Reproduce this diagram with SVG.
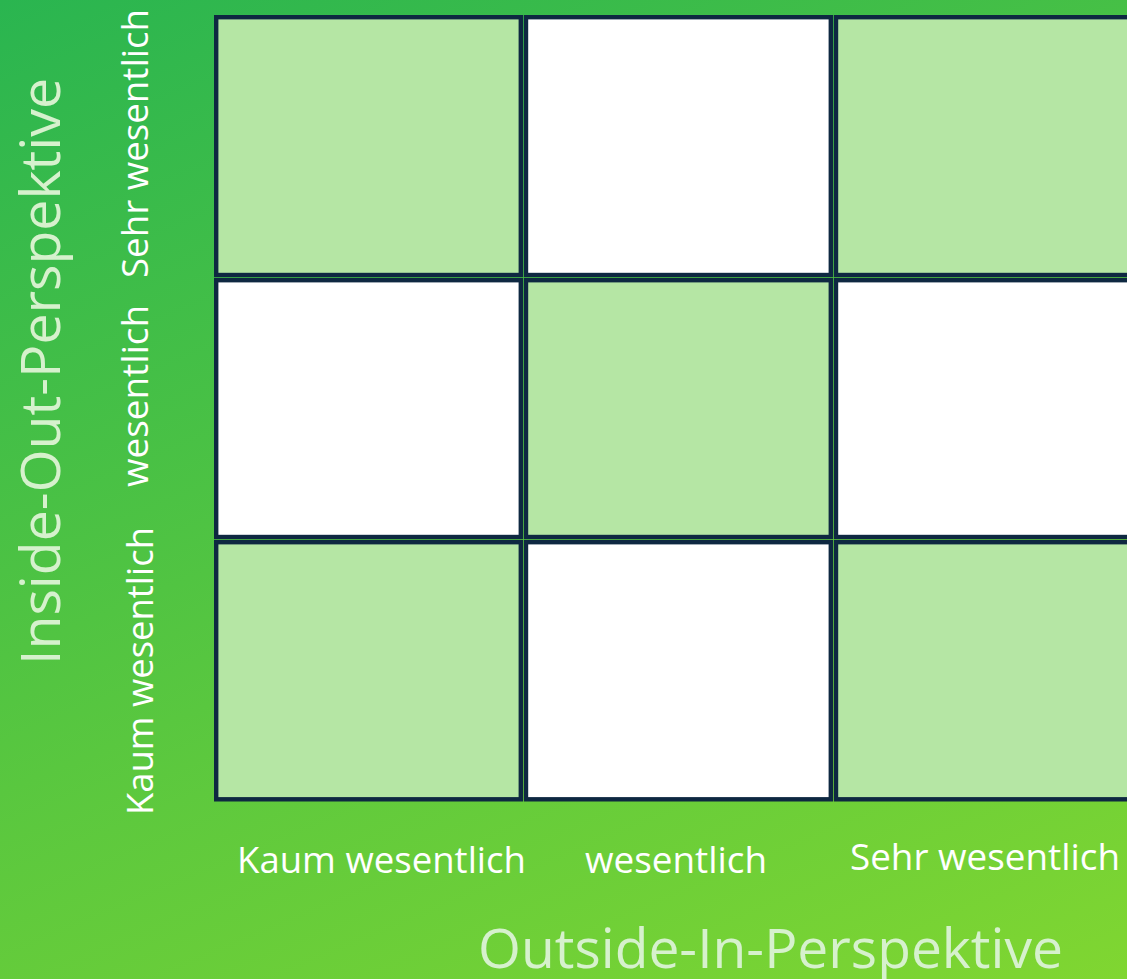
<svg xmlns="http://www.w3.org/2000/svg" width="1127" height="979" viewBox="0 0 1127 979">
  <defs>
    <linearGradient id="bg" gradientUnits="userSpaceOnUse" x1="0" y1="0" x2="516" y2="1234">
      <stop offset="0" stop-color="#2ab550"/>
      <stop offset="1" stop-color="#80d631"/>
    </linearGradient>
  </defs>
  <style>
    .cell { stroke: #0e2841; stroke-width: 4.4; }
    .g { fill: #b5e6a4; }
    .w { fill: #ffffff; }
    .lbl { font-family: "Open Sans", "Noto Sans", "Liberation Sans", sans-serif; font-size: 36px; fill: #ffffff; }
    .title { font-family: "Open Sans", "Noto Sans", "Liberation Sans", sans-serif; font-size: 55px; font-weight: 400; fill: #d6f1cd; }
  </style>
  <rect x="0" y="0" width="1127" height="979" fill="url(#bg)"/>

  <g id="grid">
    <g id="cell-r1c1"><rect class="cell g" x="216.2" y="17.2" width="304.6" height="257.8"/></g>
    <g id="cell-r1c2"><rect class="cell w" x="526" y="17.2" width="304.8" height="257.8"/></g>
    <g id="cell-r1c3"><rect class="cell g" x="836" y="17.2" width="304.8" height="257.8"/></g>
    <g id="cell-r2c1"><rect class="cell w" x="216.2" y="280.2" width="304.6" height="256.8"/></g>
    <g id="cell-r2c2"><rect class="cell g" x="526" y="280.2" width="304.8" height="256.8"/></g>
    <g id="cell-r2c3"><rect class="cell w" x="836" y="280.2" width="304.8" height="256.8"/></g>
    <g id="cell-r3c1"><rect class="cell g" x="216.2" y="542.2" width="304.6" height="257.1"/></g>
    <g id="cell-r3c2"><rect class="cell w" x="526" y="542.2" width="304.8" height="257.1"/></g>
    <g id="cell-r3c3"><rect class="cell g" x="836" y="542.2" width="304.8" height="257.1"/></g>
  </g>

  <g id="connectors"/>

  <g id="x-axis">
    <text class="lbl" x="237" y="873" textLength="289" lengthAdjust="spacingAndGlyphs">Kaum wesentlich</text>
    <text class="lbl" x="585" y="873" textLength="182" lengthAdjust="spacingAndGlyphs">wesentlich</text>
    <text class="lbl" x="850" y="869.5" textLength="270" lengthAdjust="spacingAndGlyphs">Sehr wesentlich</text>
    <text class="title" x="478" y="968" textLength="585" lengthAdjust="spacingAndGlyphs">Outside-In-Perspektive</text>
  </g>

  <g id="y-axis">
    <text class="lbl" transform="translate(153,815) rotate(-90)" x="0" y="0" textLength="288" lengthAdjust="spacingAndGlyphs">Kaum wesentlich</text>
    <text class="lbl" transform="translate(148,487) rotate(-90)" x="0" y="0" textLength="182" lengthAdjust="spacingAndGlyphs">wesentlich</text>
    <text class="lbl" transform="translate(148,278) rotate(-90)" x="0" y="0" textLength="269" lengthAdjust="spacingAndGlyphs">Sehr wesentlich</text>
    <text class="title" transform="translate(60,665) rotate(-90)" x="0" y="0" textLength="587" lengthAdjust="spacingAndGlyphs">Inside-Out-Perspektive</text>
  </g>
</svg>
